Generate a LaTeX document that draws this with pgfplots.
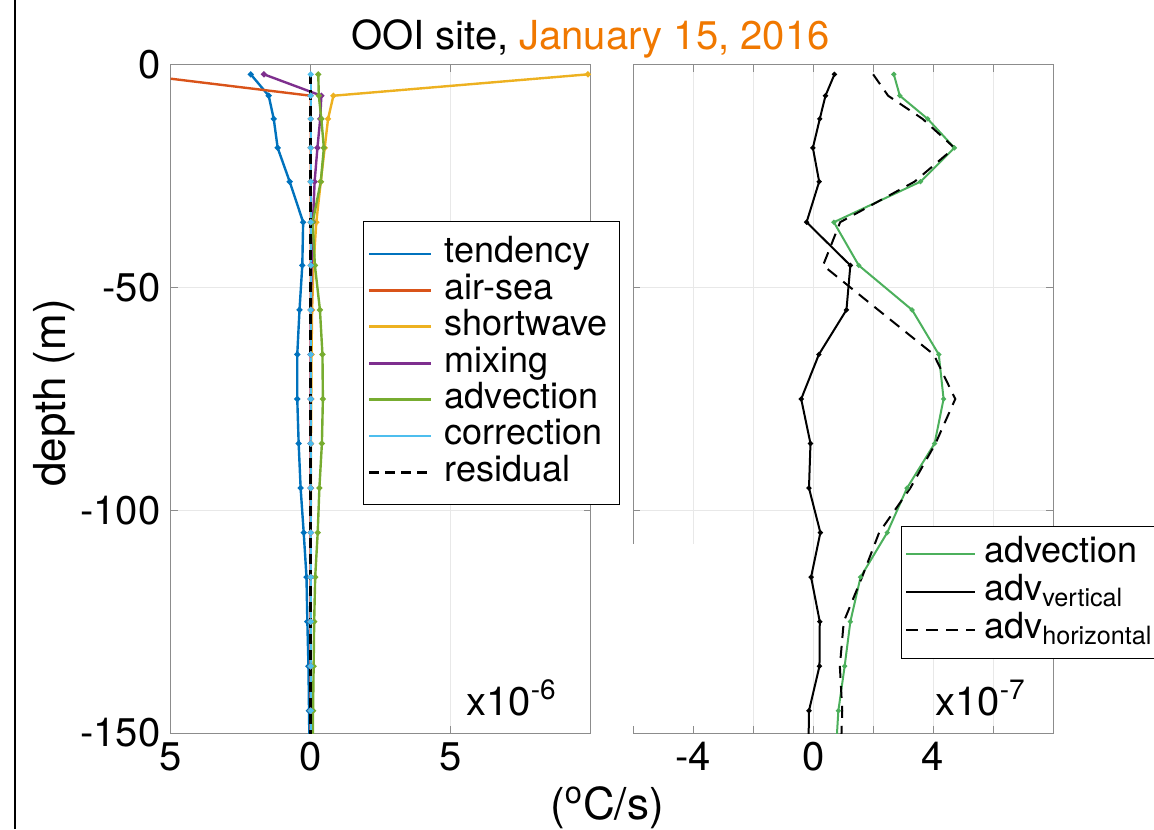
\documentclass[border=0pt]{standalone}
\usepackage{pgfplots}
\usepackage{pgfplotstable}
\pgfplotsset{compat=1.18}
\usepackage{fontspec}
\setmainfont{TeX Gyre Heros}
\definecolor{mblue}{rgb}{0,0.447,0.741}
\definecolor{morange}{rgb}{0.85,0.325,0.098}
\definecolor{myellow}{rgb}{0.929,0.694,0.125}
\definecolor{mpurple}{rgb}{0.494,0.184,0.556}
\definecolor{mgreen}{rgb}{0.466,0.674,0.188}
\definecolor{mcyan}{rgb}{0.301,0.745,0.933}
\definecolor{advgreen}{rgb}{0.30,0.69,0.36}
\definecolor{titleorange}{rgb}{0.94,0.47,0.0}
\definecolor{spine}{gray}{0.55}
\definecolor{gridc}{gray}{0.91}

\pgfplotstableread{
d      tend   airsea  sw     mix    adv    corr  res
-2.1   -2.14  -6.28   9.9    -1.67  0.27   0     0
-6.9   -1.50  0       0.81   0.38   0.29   0     0
-12.1  -1.32  0       0.62   0.34   0.38   0     0
-18.6  -1.18  0       0.50   0.24   0.47   0     0
-26.2  -0.75  0       0.36   0.14   0.36   0     0
-35.3  -0.27  0       0.20   0.08   0.07   0     0
-45    -0.30  0       0.10   0.03   0.15   0     0
-55    -0.40  0       0.05   0.01   0.33   0     0
-65    -0.48  0       0.03   0      0.42   0     0
-75    -0.48  0       0.02   0      0.435  0     0
-85    -0.43  0       0.01   0      0.40   0     0
-95    -0.36  0       0.01   0      0.31   0     0
-105   -0.25  0       0      0      0.25   0     0
-115   -0.15  0       0      0      0.16   0     0
-125   -0.12  0       0      0      0.124  0     0
-135   -0.08  0       0      0      0.105  0     0
-145   -0.06  0       0      0      0.084  0     0
-155   -0.04  0       0      0      0.075  0     0
}\leftdata

\pgfplotstableread{
d      adv    vert   horiz
-2.1   2.69   0.71   2.00
-6.9   2.89   0.41   2.50
-12.1  3.82   0.22   3.65
-18.6  4.71   -0.01  4.71
-26.2  3.58   0.20   3.38
-35.3  0.69   -0.22  0.90
-45    1.52   1.24   0.33
-55    3.30   1.11   2.17
-65    4.19   0.19   4.02
-75    4.35   -0.40  4.74
-85    4.05   -0.09  4.08
-95    3.13   -0.14  3.24
-105   2.47   0.24   2.20
-115   1.58   -0.07  1.63
-125   1.24   0.22   1.02
-135   1.05   0.21   0.89
-145   0.84   -0.14  0.97
-155   0.75   -0.16  0.92
}\rightdata

\pgfplotsset{
  common/.style={
    scale only axis,
    anchor=south west,
    ymin=-150, ymax=0,
    ytick={-150,-100,-50,0},
    axis line style={spine, line width=0.5pt},
    tick style={spine, line width=0.5pt},
    tick align=inside,
    major tick length=3.5pt,
    grid=major,
    major grid style={gridc, line width=0.5pt},
    tick label style={font=\fontsize{20}{20}\selectfont, text=black},
    xticklabel style={inner ysep=4.5pt},
    yticklabel style={inner xsep=5pt},
    /pgf/number format/assume math mode=true,
    legend cell align=left,
  },
}

\begin{document}
\begin{tikzpicture}[x=1pt,y=1pt]
\useasboundingbox (0,0) rectangle (577,414.5);
\draw[line width=1.3pt] (7.5,0) -- (7.5,414.5);

\begin{axis}[common,
  at={(85.35pt,48pt)}, width=210pt, height=334pt,
  xmin=-5, xmax=10,
  xtick={-5,0,5,10}, xticklabels={5,0,5,},
  yticklabels={-150,-100,-50,0},
  legend image code/.code={\draw[line width=1.4pt, #1] (0pt,0pt) -- (31pt,0pt);},
  legend style={at={(0.457,0.766)}, anchor=north west, draw=black,
    font=\fontsize{18}{18}\selectfont, inner xsep=2.5pt, inner ysep=7pt,
    nodes={text height=12.5pt, text depth=3.5pt, inner ysep=1.1pt, inner xsep=3pt},
    /tikz/every odd column/.append style={column sep=3pt}},
  every axis plot/.append style={line width=1.2pt, mark=*, mark size=0.8pt},
]
\addplot[mblue] table[x=tend,y=d]{\leftdata};
\addlegendentry{tendency}
\addplot[morange] table[x=airsea,y=d]{\leftdata};
\addlegendentry{air-sea}
\addplot[myellow] table[x=sw,y=d]{\leftdata};
\addlegendentry{shortwave}
\addplot[mpurple] table[x=mix,y=d]{\leftdata};
\addlegendentry{mixing}
\addplot[mgreen] table[x=adv,y=d]{\leftdata};
\addlegendentry{advection}
\addplot[mcyan] table[x=corr,y=d]{\leftdata};
\addlegendentry{correction}
\addplot[black, line width=1.5pt, dash pattern=on 5pt off 3pt, mark=none] table[x=res,y=d]{\leftdata};
\addlegendentry{residual}
\end{axis}

\begin{axis}[common,
  at={(316.65pt,48pt)}, width=209.85pt, height=334pt,
  xmin=-6, xmax=8,
  xtick={-6,-4,...,8}, xticklabels={,-4,,0,,4,,},
  yticklabels={},
  legend image code/.code={\draw[line width=1.1pt, #1] (0pt,0pt) -- (34.5pt,0pt);},
  legend style={at={(0.637,0.3106)}, anchor=north west, draw=black,
    font=\fontsize{18}{18}\selectfont, inner xsep=2pt, inner ysep=4.5pt,
    nodes={text height=12.5pt, text depth=4.3pt, inner ysep=1.1pt, inner xsep=2.5pt},
    /tikz/every odd column/.append style={column sep=1.5pt}},
  every axis plot/.append style={line width=1pt, mark=*, mark size=0.7pt},
]
\addplot[advgreen] table[x=adv,y=d]{\rightdata};
\addlegendentry{advection}
\addplot[black] table[x=vert,y=d]{\rightdata};
\addlegendentry{adv\textsubscript{vertical}}
\addplot[black, dash pattern=on 6pt off 4pt, mark=none] table[x=horiz,y=d]{\rightdata};
\addlegendentry{adv\textsubscript{horizontal}}
\end{axis}

\fill[white] (311,51.6) rectangle (360,142.5);

\node[anchor=base, font=\fontsize{20}{20}\selectfont] at (295.15,389.5)
  {OOI site, \textcolor{titleorange}{January 15, 2016}};
\node[anchor=base, rotate=90, font=\fontsize{22}{22}\selectfont] at (32.5,218) {depth (m)};
\node[anchor=base, font=\fontsize{22}{22}\selectfont] at (303.5,5) {(\textsuperscript{o}C/s)};
\node[anchor=base west, inner sep=0pt, font=\fontsize{20}{20}\selectfont] at (233,57) {x10\textsuperscript{-6}};
\node[anchor=base west, inner sep=0pt, font=\fontsize{20}{20}\selectfont] at (467.5,57) {x10\textsuperscript{-7}};
\end{tikzpicture}
\end{document}
